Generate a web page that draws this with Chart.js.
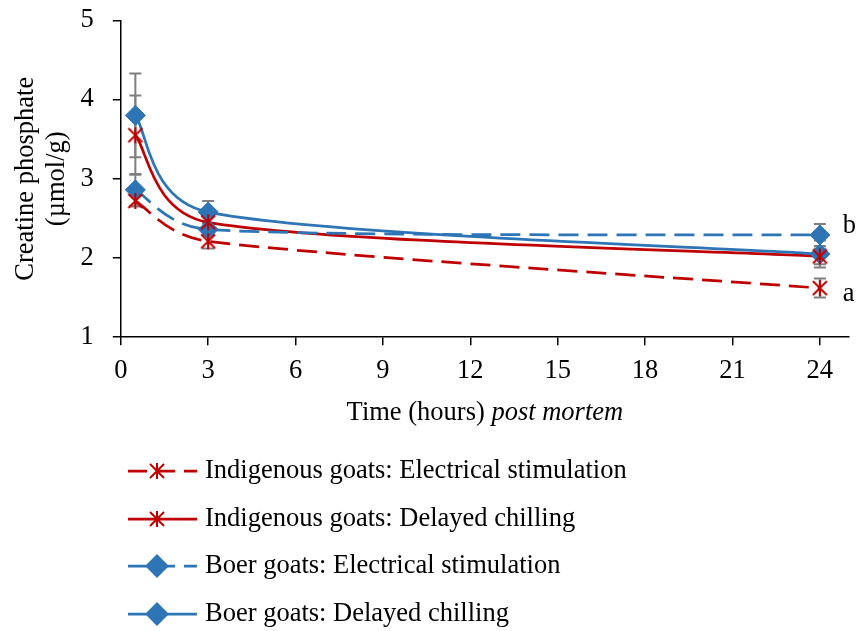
<!DOCTYPE html>
<html>
<head>
<meta charset="utf-8">
<script src="https://cdn.jsdelivr.net/npm/chart.js@4.4.0/dist/chart.umd.min.js"></script>
<style>
  html, body { margin: 0; padding: 0; background: #fff; }
  #wrap { width: 860px; height: 631px; }
</style>
</head>
<body>
<div id="wrap"><canvas id="cpChart"></canvas></div>
<script>
// sampling times (hours post mortem)
const hours = [0.5, 3, 24];

// creatine phosphate means and standard errors
const indigenousES = [2.72, 2.21, 1.62];
const indigenousESErr = [0.07, 0.09, 0.12];
const indigenousDC = [3.55, 2.45, 2.02];
const indigenousDCErr = [0.50, 0.08, 0.10];
const boerES = [2.86, 2.36, 2.29];
const boerESErr = [0.20, 0.08, 0.14];
const boerDC = [3.80, 2.58, 2.05];
const boerDCErr = [0.53, 0.14, 0.17];

const xTicks = [0, 3, 6, 9, 12, 15, 18, 21, 24];
const yTicks = [1, 2, 3, 4, 5];

const seriesNames = [
    'Indigenous goats: Electrical stimulation',
    'Indigenous goats: Delayed chilling',
    'Boer goats: Electrical stimulation',
    'Boer goats: Delayed chilling'
];
// significance letters shown next to the 24 h points
const sigLetters = ['a', '', 'b', ''];

const RED = '#C00000';
const BLUE = '#2E75B6';
const FONT = '"Liberation Serif", "Times New Roman", serif';
const FSIZE = 26.5;
const DASH = [20, 9];
const LINE_W = 2.75;

// six-armed asterisk marker (X plus a vertical stroke)
function asteriskMarker(color) {
    const c = document.createElement('canvas');
    c.width = 18; c.height = 18;
    const g = c.getContext('2d');
    g.strokeStyle = color;
    g.lineWidth = 2;
    g.beginPath();
    g.moveTo(9, 1); g.lineTo(9, 17);
    g.moveTo(2, 2); g.lineTo(16, 16);
    g.moveTo(16, 2); g.lineTo(2, 16);
    g.stroke();
    return c;
}
const redAsterisk = asteriskMarker(RED);

const means = [indigenousES, indigenousDC, boerES, boerDC];
const errors = [indigenousESErr, indigenousDCErr, boerESErr, boerDCErr];
const colors = [RED, RED, BLUE, BLUE];
const dashed = [true, false, true, false];
const markers = [redAsterisk, redAsterisk, 'rectRot', 'rectRot'];

// points only; the smoothed lines are drawn by the plugin below
const datasets = means.map((vals, i) => ({
    label: seriesNames[i],
    data: vals.map((v, j) => ({ x: hours[j], y: v })),
    showLine: false,
    borderColor: colors[i],
    backgroundColor: colors[i],
    pointStyle: markers[i],
    pointRadius: 10,
    pointBorderWidth: 1,
    pointBorderColor: colors[i],
    pointBackgroundColor: colors[i]
}));

function dist(a, b) {
    return Math.hypot(b.x - a.x, b.y - a.y);
}

// spreadsheet-style smoothing: bezier with 1/6 tangents, shortened on short segments
function smoothPath(ctx, pts) {
    ctx.moveTo(pts[0].x, pts[0].y);
    for (let i = 0; i < pts.length - 1; i++) {
        const p0 = pts[i - 1] || pts[i];
        const p1 = pts[i];
        const p2 = pts[i + 1];
        const p3 = pts[i + 2] || p2;
        const d12 = dist(p1, p2);
        const d02 = dist(p0, p2);
        const d13 = dist(p1, p3);
        let f = 1 / 6, g = 1 / 6;
        if (d02 / 6 > d12 / 2) f = d12 / 2 / d02;
        if (d13 / 6 > d12 / 2) g = d12 / 2 / d13;
        ctx.bezierCurveTo(
            p1.x + f * (p2.x - p0.x), p1.y + f * (p2.y - p0.y),
            p2.x - g * (p3.x - p1.x), p2.y - g * (p3.y - p1.y),
            p2.x, p2.y
        );
    }
}

// error bars first, then the series lines, all under the markers
const seriesLines = {
    id: 'seriesLines',
    beforeDatasetsDraw(chart) {
        const { ctx, scales: { x, y } } = chart;
        ctx.save();
        ctx.strokeStyle = '#7F7F7F';
        ctx.lineWidth = 2;
        means.forEach((vals, i) => {
            vals.forEach((v, j) => {
                const px = x.getPixelForValue(hours[j]);
                const top = y.getPixelForValue(v + errors[i][j]);
                const bot = y.getPixelForValue(v - errors[i][j]);
                ctx.beginPath();
                ctx.moveTo(px, top); ctx.lineTo(px, bot);
                ctx.moveTo(px - 6, top); ctx.lineTo(px + 6, top);
                ctx.moveTo(px - 6, bot); ctx.lineTo(px + 6, bot);
                ctx.stroke();
            });
        });

        ctx.lineWidth = LINE_W;
        ctx.lineJoin = 'round';
        means.forEach((vals, i) => {
            const pts = vals.map((v, j) => ({ x: x.getPixelForValue(hours[j]), y: y.getPixelForValue(v) }));
            ctx.strokeStyle = colors[i];
            ctx.setLineDash(dashed[i] ? DASH : []);
            ctx.beginPath();
            smoothPath(ctx, pts);
            ctx.stroke();
        });
        ctx.restore();
    }
};

// letters, x axis title (part italic) and the legend underneath
const extras = {
    id: 'extras',
    afterDraw(chart) {
        const { ctx, chartArea, scales: { x, y } } = chart;
        ctx.save();
        ctx.fillStyle = '#000';
        ctx.textBaseline = 'middle';
        ctx.textAlign = 'left';
        ctx.font = FSIZE + 'px ' + FONT;

        sigLetters.forEach((s, i) => {
            if (!s) return;
            const last = means[i].length - 1;
            const shift = s === 'b' ? -9 : 6;
            ctx.fillText(s, x.getPixelForValue(hours[last]) + 23, y.getPixelForValue(means[i][last]) + shift);
        });

        const part1 = 'Time (hours) ';
        const part2 = 'post mortem';
        const w1 = ctx.measureText(part1).width;
        ctx.font = 'italic ' + FSIZE + 'px ' + FONT;
        const w2 = ctx.measureText(part2).width;
        const cx = (chartArea.left + chartArea.right) / 2;
        const tx = cx - (w1 + w2) / 2;
        const ty = chartArea.bottom + 76;
        ctx.font = FSIZE + 'px ' + FONT;
        ctx.fillText(part1, tx, ty);
        ctx.font = 'italic ' + FSIZE + 'px ' + FONT;
        ctx.fillText(part2, tx + w1, ty);

        const rowY = [471, 519, 566, 614];
        seriesNames.forEach((name, i) => {
            const ly = rowY[i];
            ctx.strokeStyle = colors[i];
            ctx.fillStyle = colors[i];
            ctx.lineWidth = LINE_W;
            ctx.setLineDash(dashed[i] ? [19, 9] : []);
            ctx.beginPath();
            ctx.moveTo(128, ly);
            ctx.lineTo(197, ly);
            ctx.stroke();
            ctx.setLineDash([]);
            Chart.helpers.drawPoint(ctx, {
                pointStyle: markers[i],
                radius: 10,
                borderWidth: 1,
                rotation: 0
            }, 157, ly);
            ctx.fillStyle = '#000';
            ctx.font = FSIZE + 'px ' + FONT;
            ctx.fillText(name, 205, ly);
        });
        ctx.restore();
    }
};

new Chart(document.getElementById('cpChart'), {
    type: 'line',
    data: { datasets },
    plugins: [seriesLines, extras],
    options: {
        responsive: true,
        maintainAspectRatio: false,
        animation: false,
        layout: { padding: { left: 10, right: -3, top: 0, bottom: 234 } },
        plugins: {
            legend: { display: false },
            tooltip: { enabled: false }
        },
        scales: {
            x: {
                type: 'linear',
                min: 0,
                max: 25,
                afterBuildTicks: s => { s.ticks = xTicks.map(v => ({ value: v })); },
                ticks: { color: '#000', font: { family: FONT, size: FSIZE }, padding: 10, maxRotation: 0 },
                grid: { drawOnChartArea: false, color: '#000', tickLength: 8, lineWidth: 1.5 },
                border: { color: '#000', width: 1.5 }
            },
            y: {
                min: 1,
                max: 5,
                afterBuildTicks: s => { s.ticks = yTicks.map(v => ({ value: v })); },
                ticks: { color: '#000', font: { family: FONT, size: FSIZE, lineHeight: 0.1 }, padding: 19 },
                grid: { drawOnChartArea: false, color: '#000', tickLength: 8, lineWidth: 1.5 },
                border: { color: '#000', width: 1.5 },
                title: {
                    display: true,
                    text: ['Creatine phosphate', '(µmol/g)'],
                    color: '#000',
                    font: { family: FONT, size: FSIZE, lineHeight: 1.18 },
                    padding: { top: 0, bottom: -11 }
                }
            }
        }
    }
});
</script>
</body>
</html>
